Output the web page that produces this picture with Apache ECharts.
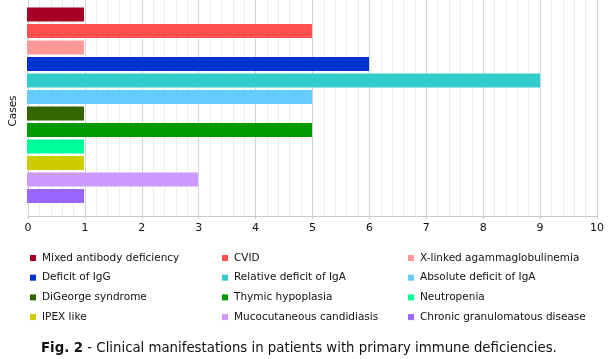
<!DOCTYPE html>
<html><head><meta charset="utf-8">
<script src="https://cdn.jsdelivr.net/npm/echarts@6/dist/echarts.min.js"></script>
<style>html,body{margin:0;padding:0;background:#fff}#c{width:608px;height:359px}</style>
</head><body><div id="c"></div>
<script>
const categories = ['Cases'];
const seriesNames = ['Mixed antibody deficiency','CVID','X-linked agammaglobulinemia','Deficit of IgG','Relative deficit of IgA','Absolute deficit of IgA','DiGeorge syndrome','Thymic hypoplasia','Neutropenia','IPEX like','Mucocutaneous candidiasis','Chronic granulomatous disease'];
const seriesValues = [1,5,1,6,9,5,1,5,1,1,3,1];
const colors = ['#A50026','#FF5050','#FF9999','#0033CC','#33CCCC','#66CCFF','#336600','#009900','#00FF99','#CCCC00','#CC99FF','#9966FF'];
const xTicks = [0,10,1];
const caption = 'Fig. 2';
const captionRest = ' - Clinical manifestations in patients with primary immune deficiencies.';

const font = 'DejaVu Sans';
const chart = echarts.init(document.getElementById('c'), null, {renderer:'canvas'});
const cols = [[0,3,6,9],[1,4,7,10],[2,5,8,11]];
const colLeft = [30, 222, 408];
const legends = cols.map((idx,i)=>({
  orient:'vertical', left: colLeft[i], top: 251, padding:0,
  itemWidth:6, itemHeight:6, icon:'rect', itemGap:5.7,
  data: idx.map(k=>seriesNames[k]),
  textStyle:{fontFamily:font, fontSize:10.5, color:'#111', lineHeight:14, padding:[0,0,0,1]},
  selectedMode:false
}));
chart.setOption({
  animation:false,
  color: colors,
  grid:[
    {left:27, right:11, top:0, bottom:143, containLabel:false},
    {left:27, right:11, top:0, height:210.5, containLabel:false}
  ],
  xAxis:[
    {type:'value', gridIndex:0, min:xTicks[0], max:xTicks[1], interval:xTicks[2],
      axisLine:{show:true, lineStyle:{color:'#c8c8c8'}},
      axisTick:{show:true, length:3, lineStyle:{color:'#c8c8c8'}},
      axisLabel:{fontFamily:font, fontSize:11, color:'#111', margin:7},
      splitLine:{show:true, lineStyle:{color:'#d4d4d4'}},
      minorTick:{show:false, splitNumber:5},
      minorSplitLine:{show:true, lineStyle:{color:'#ececec'}}
    },
    {type:'value', gridIndex:1, min:xTicks[0], max:xTicks[1], interval:xTicks[2], show:false,
      splitLine:{show:false}}
  ],
  yAxis:[
    {type:'category', gridIndex:0, data:categories, inverse:true,
      axisLine:{show:false}, axisTick:{show:false}, axisLabel:{show:false},
      name:'Cases', nameLocation:'middle', nameGap:9,
      nameTextStyle:{fontFamily:font, fontSize:10.5, color:'#111', padding:[0,6,0,0]}
    },
    {type:'category', gridIndex:1, data:categories, inverse:true, show:false}
  ],
  legend: legends,
  title:{text:'{b|'+caption+'}{r|'+captionRest+'}', left:41, top:342, padding:0,
    textStyle:{rich:{b:{fontFamily:font, fontSize:13.3, fontWeight:'bold', color:'#111'}, r:{fontFamily:font, fontSize:13.3, fontWeight:'normal', color:'#111'}}}},
  series: seriesNames.map((n,i)=>({
    name:n, type:'bar', xAxisIndex:1, yAxisIndex:1, barWidth:14, barGap:'18%',
    itemStyle:{color:colors[i]},
    data:[seriesValues[i]]
  }))
});
</script></body></html>
